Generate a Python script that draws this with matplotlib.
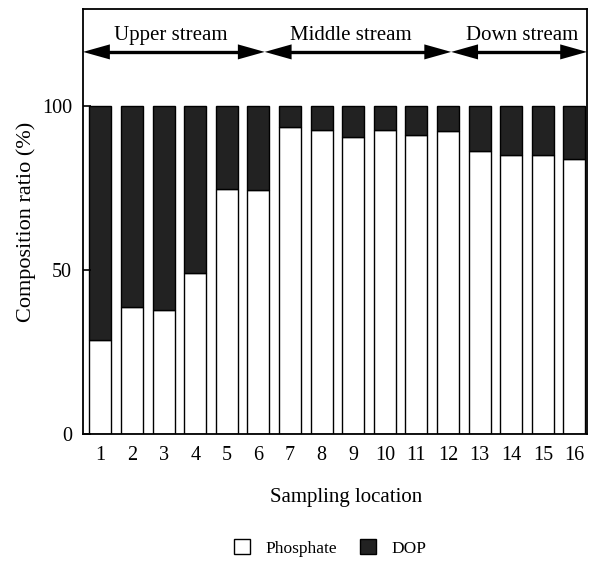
import matplotlib
matplotlib.use("Agg")
import matplotlib.pyplot as plt
from matplotlib.patches import Patch

plt.rcParams['font.family'] = ['Liberation Serif', 'DejaVu Serif']

locations = list(range(1, 17))
tick_labels = [str(i) for i in locations]
phosphate = [28.4, 38.6, 37.6, 49.0, 74.8, 74.2, 93.5, 92.6, 90.5, 92.6, 91.2, 92.3, 86.2, 84.9, 84.9, 83.8]
dop = [100 - p for p in phosphate]

regions = ["Upper stream", "Middle stream", "Down stream"]
region_bounds = [(0.45, 6.2), (6.2, 12.1), (12.1, 16.4)]
region_label_x = [3.23, 8.93, 14.34]

fig = plt.figure(figsize=(5.93, 5.65), dpi=100)
ax = fig.add_axes([0.140, 0.2327, 0.850, 0.7508])

ax.bar(locations, phosphate, width=0.70, color='white', edgecolor='black', linewidth=1.0, label='Phosphate')
ax.bar(locations, dop, width=0.70, bottom=phosphate, color='#222222', edgecolor='black', linewidth=1.0, label='DOP')

ax.set_xlim(0.45, 16.4)
ax.set_ylim(0, 129.5)
ax.set_yticks([0, 50, 100])
ax.set_xticks(locations)
ax.set_xticklabels(tick_labels)
ax.tick_params(axis='y', direction='in', length=6, width=1.2, labelsize=14.5, pad=8)
ax.tick_params(axis='x', length=0, labelsize=14.5, pad=9)
for s in ax.spines.values():
    s.set_linewidth(1.3)

ax.set_ylabel('Composition ratio (%)', fontsize=16)
ax.yaxis.set_label_coords(-0.094, 0.5)
ax.set_xlabel('Sampling location', fontsize=15)
ax.xaxis.set_label_coords(0.522, -0.128)

# region arrows: line plus filled triangular heads
arrow_y = 116.5
head_len = 0.85
head_half = 2.3
for name, (x0, x1), tx in zip(regions, region_bounds, region_label_x):
    ax.plot([x0 + head_len * 0.5, x1 - head_len * 0.5], [arrow_y, arrow_y],
            color='black', lw=2.4, solid_capstyle='butt', clip_on=False)
    ax.fill([x0, x0 + head_len, x0 + head_len], [arrow_y, arrow_y + head_half, arrow_y - head_half],
            color='black', lw=0, clip_on=False)
    ax.fill([x1, x1 - head_len, x1 - head_len], [arrow_y, arrow_y + head_half, arrow_y - head_half],
            color='black', lw=0, clip_on=False)
    ax.text(tx, 121.5, name, ha='center', va='center', fontsize=15)

handles = [Patch(facecolor='white', edgecolor='black', label='Phosphate'),
           Patch(facecolor='#222222', edgecolor='black', label='DOP')]
fig.legend(handles=handles, loc='center', bbox_to_anchor=(0.557, 0.03), ncol=2,
           frameon=False, fontsize=12.5, handlelength=0.9, handleheight=0.9,
           columnspacing=1.3, handletextpad=0.9)

fig.savefig('out.png', dpi=100)
